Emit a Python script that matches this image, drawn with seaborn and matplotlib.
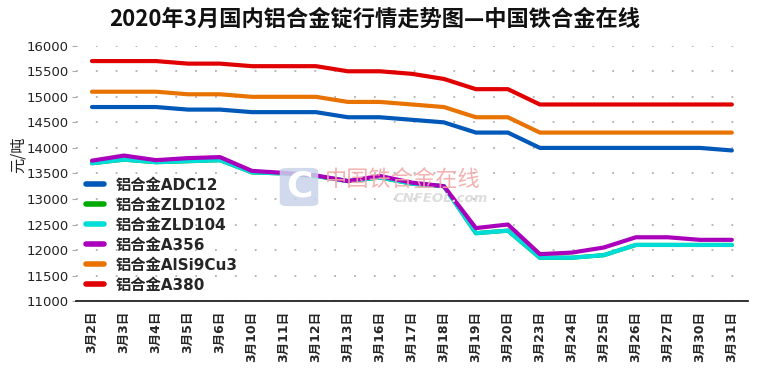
import matplotlib
matplotlib.use("Agg")
import matplotlib.pyplot as plt
import seaborn as sns
import pandas as pd
from matplotlib.patches import FancyBboxPatch

dates = ["3月2日", "3月3日", "3月4日", "3月5日", "3月6日", "3月10日", "3月11日",
         "3月12日", "3月13日", "3月16日", "3月17日", "3月18日", "3月19日", "3月20日",
         "3月23日", "3月24日", "3月25日", "3月26日", "3月27日", "3月30日", "3月31日"]

adc12 = [14800, 14800, 14800, 14750, 14750, 14700, 14700, 14700, 14600, 14600, 14550,
         14500, 14300, 14300, 14000, 14000, 14000, 14000, 14000, 14000, 13950]
zld102 = [13700, 13770, 13720, 13740, 13760, 13520, 13500, 13450, 13350, 13420, 13300,
          13250, 12330, 12380, 11850, 11850, 11900, 12100, 12100, 12100, 12100]
zld104 = [13700, 13770, 13720, 13740, 13760, 13520, 13500, 13450, 13350, 13420, 13300,
          13250, 12330, 12380, 11850, 11850, 11900, 12100, 12100, 12100, 12100]
a356 = [13750, 13850, 13760, 13800, 13820, 13550, 13510, 13460, 13350, 13450, 13320,
        13250, 12430, 12500, 11920, 11950, 12050, 12250, 12250, 12200, 12200]
alsi9cu3 = [15100, 15100, 15100, 15050, 15050, 15000, 15000, 15000, 14900, 14900, 14850,
            14800, 14600, 14600, 14300, 14300, 14300, 14300, 14300, 14300, 14300]
a380 = [15700, 15700, 15700, 15650, 15650, 15600, 15600, 15600, 15500, 15500, 15450,
        15350, 15150, 15150, 14850, 14850, 14850, 14850, 14850, 14850, 14850]

series_names = ["铝合金ADC12", "铝合金ZLD102", "铝合金ZLD104", "铝合金A356",
                "铝合金AlSi9Cu3", "铝合金A380"]
series_values = [adc12, zld102, zld104, a356, alsi9cu3, a380]
colors = ["#0058B8", "#00AA00", "#00DDD8", "#AA00BB", "#E87300", "#E00000"]

y_ticks = [11000, 11500, 12000, 12500, 13000, 13500, 14000, 14500, 15000, 15500, 16000]

rows = []
for name, vals in zip(series_names, series_values):
    for i, v in enumerate(vals):
        rows.append({"idx": i, "date": dates[i], "price": v, "series": name})
df = pd.DataFrame(rows)

sns.set_theme(style="white")
plt.rcParams["font.family"] = ["DejaVu Sans", "Noto Sans CJK SC"]

fig = plt.figure(figsize=(7.6, 3.75), dpi=100)
ax = fig.add_axes([0.1, 0.197, 0.884, 0.681])

ax.set_ylim(11000, 16000)
ax.set_xlim(-0.5, len(dates) - 0.5)
ax.set_yticks(y_ticks)
for yv in y_ticks:
    ax.axhline(yv, color="#b0b0b0", lw=1.3, ls=(0, (1, 10)), zorder=0)

# watermark
box = FancyBboxPatch((282 / 760, 1 - 205 / 375), 34 / 760, 36 / 375,
                     boxstyle="round,pad=0.003,rounding_size=0.01",
                     transform=fig.transFigure, facecolor="#c9d3ea", edgecolor="none",
                     alpha=0.85, zorder=1)
fig.patches.append(box)
fig.text(299 / 760, 1 - 187 / 375, "C", fontsize=26, fontweight="bold", color="white",
         ha="center", va="center", family=["DejaVu Sans"], zorder=2)
fig.text(325 / 760, 1 - 180 / 375, "中国铁合金在线", fontsize=16, color="#f2a9a9",
         ha="left", va="center", family=["Noto Sans CJK SC"], alpha=0.9)
fig.text(394 / 760, 1 - 198 / 375, "CNFEOL.com", fontsize=9.5, color="#dddddd",
         ha="left", va="center", style="italic", fontweight="bold")

sns.lineplot(data=df, x="idx", y="price", hue="series", hue_order=series_names,
             palette=colors, linewidth=3.0, ax=ax, sort=False, estimator=None,
             legend=True, solid_capstyle="round", solid_joinstyle="round")

ax.set_xticks(range(len(dates)))
ax.set_xticklabels(dates, rotation=90, fontsize=9, fontweight="bold",
                   family=["DejaVu Sans", "Noto Sans CJK SC"])
ax.set_xticks([i - 0.5 for i in range(len(dates) + 1)], minor=True)
ax.tick_params(axis="x", which="major", length=0, pad=7)
ax.tick_params(axis="x", which="minor", length=5, width=1, color="#333333", direction="out")
ax.tick_params(axis="y", which="major", length=3, width=0.8, color="#aaaaaa",
               labelsize=9.5, pad=2, left=True)
for lab in ax.get_yticklabels():
    lab.set_color("#222222")

for s in ["top", "right", "left"]:
    ax.spines[s].set_visible(False)
ax.spines["bottom"].set_color("#222222")
ax.spines["bottom"].set_linewidth(1.3)

ax.set_xlabel("")
ax.set_ylabel("")
fig.text(18 / 760, 1 - 155 / 375, "元/吨", rotation=90, fontsize=11, ha="center",
         va="center", family=["Noto Sans CJK SC"], color="#222222")

leg = ax.legend(loc="upper left", bbox_to_anchor=(0.012, 0.49), frameon=False,
                prop={"size": 11, "weight": "bold",
                      "family": ["DejaVu Sans", "Noto Sans CJK SC"]},
                handlelength=1.2, handletextpad=0.8, labelspacing=0.33,
                borderpad=0.1, borderaxespad=0)
for line in leg.get_lines():
    line.set_linewidth(4)

fig.text(0.493, 1 - 19 / 375, "2020年3月国内铝合金锭行情走势图—中国铁合金在线",
         fontsize=16, fontweight="bold", ha="center", va="center",
         family=["Noto Sans CJK SC"], color="#111111")

fig.savefig("out.png", dpi=100)
